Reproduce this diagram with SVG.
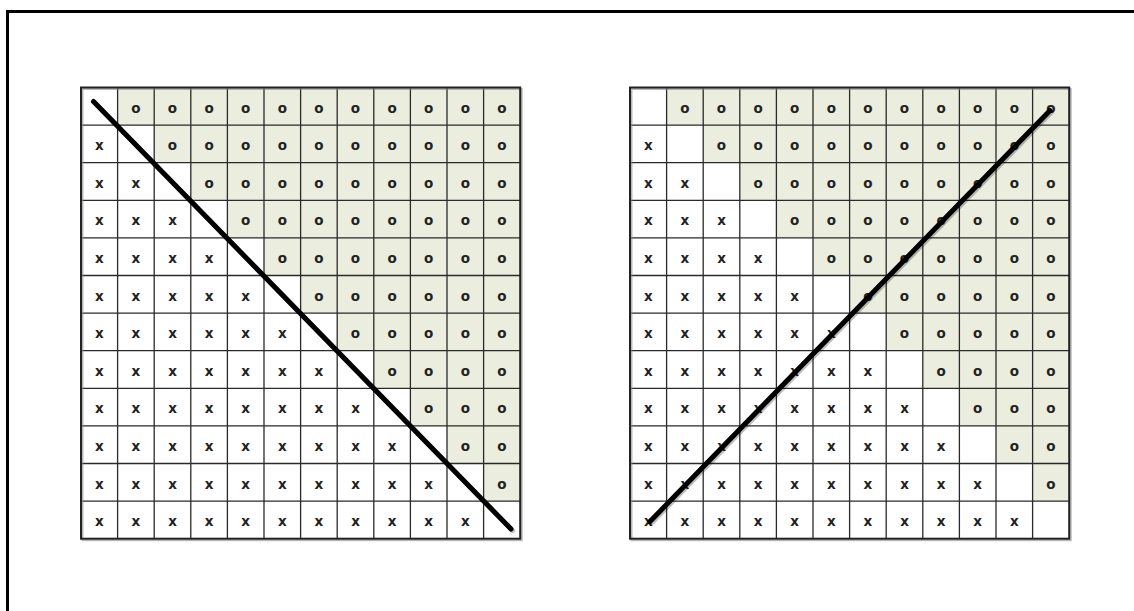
<svg xmlns="http://www.w3.org/2000/svg" width="1134" height="611" viewBox="0 0 1134 611">
<style>
.t{font-family:"DejaVu Sans",Verdana,sans-serif;font-size:13.5px;font-weight:bold;fill:#222;text-anchor:middle}
.g{fill:#ebeedf;stroke:none}
.ln{fill:none;stroke:#2a2a2a;stroke-width:1.3}
.bd{fill:none;stroke:#222;stroke-width:2}
.sh{fill:none;stroke:#888;stroke-width:2;opacity:.6}
.dg{stroke:#000;stroke-width:5;stroke-linecap:round}
.dgs{stroke:#000;stroke-width:5;stroke-linecap:round;opacity:.25}
</style>
<rect x="0" y="0" width="1134" height="611" fill="#fff"/>
<path d="M7.5,611 V11.5 H1134" fill="none" stroke="#000" stroke-width="3"/>
<g id="grid-left">
<polygon class="g" points="117.6,87.5 520.2,87.5 520.2,501.1 483.6,501.1 483.6,463.5 447,463.5 447,425.9 410.4,425.9 410.4,388.3 373.8,388.3 373.8,350.7 337.2,350.7 337.2,313.1 300.6,313.1 300.6,275.5 264,275.5 264,237.9 227.4,237.9 227.4,200.3 190.8,200.3 190.8,162.7 154.2,162.7 154.2,125.1 117.6,125.1"/>
<path class="ln" d="M117.6,87.5V538.7M154.2,87.5V538.7M190.8,87.5V538.7M227.4,87.5V538.7M264,87.5V538.7M300.6,87.5V538.7M337.2,87.5V538.7M373.8,87.5V538.7M410.4,87.5V538.7M447,87.5V538.7M483.6,87.5V538.7M81,125.1H520.2M81,162.7H520.2M81,200.3H520.2M81,237.9H520.2M81,275.5H520.2M81,313.1H520.2M81,350.7H520.2M81,388.3H520.2M81,425.9H520.2M81,463.5H520.2M81,501.1H520.2"/>
<rect class="sh" x="82.5" y="89" width="439.2" height="451.2"/>
<rect class="bd" x="81" y="87.5" width="439.2" height="451.2"/>
<text class="t" x="135.9 172.5 209.1 245.7 282.3 318.9 355.5 392.1 428.7 465.3 501.9" y="112.5">ooooooooooo</text>
<text class="t" x="172.5 209.1 245.7 282.3 318.9 355.5 392.1 428.7 465.3 501.9" y="150.1">oooooooooo</text>
<text class="t" x="209.1 245.7 282.3 318.9 355.5 392.1 428.7 465.3 501.9" y="187.7">ooooooooo</text>
<text class="t" x="245.7 282.3 318.9 355.5 392.1 428.7 465.3 501.9" y="225.3">oooooooo</text>
<text class="t" x="282.3 318.9 355.5 392.1 428.7 465.3 501.9" y="262.9">ooooooo</text>
<text class="t" x="318.9 355.5 392.1 428.7 465.3 501.9" y="300.5">oooooo</text>
<text class="t" x="355.5 392.1 428.7 465.3 501.9" y="338.1">ooooo</text>
<text class="t" x="392.1 428.7 465.3 501.9" y="375.7">oooo</text>
<text class="t" x="428.7 465.3 501.9" y="413.3">ooo</text>
<text class="t" x="465.3 501.9" y="450.9">oo</text>
<text class="t" x="501.9" y="488.5">o</text>
<text class="t" x="99.3" y="150.1">x</text>
<text class="t" x="99.3 135.9" y="187.7">xx</text>
<text class="t" x="99.3 135.9 172.5" y="225.3">xxx</text>
<text class="t" x="99.3 135.9 172.5 209.1" y="262.9">xxxx</text>
<text class="t" x="99.3 135.9 172.5 209.1 245.7" y="300.5">xxxxx</text>
<text class="t" x="99.3 135.9 172.5 209.1 245.7 282.3" y="338.1">xxxxxx</text>
<text class="t" x="99.3 135.9 172.5 209.1 245.7 282.3 318.9" y="375.7">xxxxxxx</text>
<text class="t" x="99.3 135.9 172.5 209.1 245.7 282.3 318.9 355.5" y="413.3">xxxxxxxx</text>
<text class="t" x="99.3 135.9 172.5 209.1 245.7 282.3 318.9 355.5 392.1" y="450.9">xxxxxxxxx</text>
<text class="t" x="99.3 135.9 172.5 209.1 245.7 282.3 318.9 355.5 392.1 428.7" y="488.5">xxxxxxxxxx</text>
<text class="t" x="99.3 135.9 172.5 209.1 245.7 282.3 318.9 355.5 392.1 428.7 465.3" y="526.1">xxxxxxxxxxx</text>
<line class="dgs" x1="95" y1="103" x2="512.5" y2="530.5"/>
<line class="dg" x1="93.5" y1="101.5" x2="511" y2="529"/>
</g>
<g id="grid-right">
<polygon class="g" points="666.6,87.5 1069.2,87.5 1069.2,501.1 1032.6,501.1 1032.6,463.5 996,463.5 996,425.9 959.4,425.9 959.4,388.3 922.8,388.3 922.8,350.7 886.2,350.7 886.2,313.1 849.6,313.1 849.6,275.5 813,275.5 813,237.9 776.4,237.9 776.4,200.3 739.8,200.3 739.8,162.7 703.2,162.7 703.2,125.1 666.6,125.1"/>
<path class="ln" d="M666.6,87.5V538.7M703.2,87.5V538.7M739.8,87.5V538.7M776.4,87.5V538.7M813,87.5V538.7M849.6,87.5V538.7M886.2,87.5V538.7M922.8,87.5V538.7M959.4,87.5V538.7M996,87.5V538.7M1032.6,87.5V538.7M630,125.1H1069.2M630,162.7H1069.2M630,200.3H1069.2M630,237.9H1069.2M630,275.5H1069.2M630,313.1H1069.2M630,350.7H1069.2M630,388.3H1069.2M630,425.9H1069.2M630,463.5H1069.2M630,501.1H1069.2"/>
<rect class="sh" x="631.5" y="89" width="439.2" height="451.2"/>
<rect class="bd" x="630" y="87.5" width="439.2" height="451.2"/>
<text class="t" x="684.9 721.5 758.1 794.7 831.3 867.9 904.5 941.1 977.7 1014.3 1050.9" y="112.5">ooooooooooo</text>
<text class="t" x="721.5 758.1 794.7 831.3 867.9 904.5 941.1 977.7 1014.3 1050.9" y="150.1">oooooooooo</text>
<text class="t" x="758.1 794.7 831.3 867.9 904.5 941.1 977.7 1014.3 1050.9" y="187.7">ooooooooo</text>
<text class="t" x="794.7 831.3 867.9 904.5 941.1 977.7 1014.3 1050.9" y="225.3">oooooooo</text>
<text class="t" x="831.3 867.9 904.5 941.1 977.7 1014.3 1050.9" y="262.9">ooooooo</text>
<text class="t" x="867.9 904.5 941.1 977.7 1014.3 1050.9" y="300.5">oooooo</text>
<text class="t" x="904.5 941.1 977.7 1014.3 1050.9" y="338.1">ooooo</text>
<text class="t" x="941.1 977.7 1014.3 1050.9" y="375.7">oooo</text>
<text class="t" x="977.7 1014.3 1050.9" y="413.3">ooo</text>
<text class="t" x="1014.3 1050.9" y="450.9">oo</text>
<text class="t" x="1050.9" y="488.5">o</text>
<text class="t" x="648.3" y="150.1">x</text>
<text class="t" x="648.3 684.9" y="187.7">xx</text>
<text class="t" x="648.3 684.9 721.5" y="225.3">xxx</text>
<text class="t" x="648.3 684.9 721.5 758.1" y="262.9">xxxx</text>
<text class="t" x="648.3 684.9 721.5 758.1 794.7" y="300.5">xxxxx</text>
<text class="t" x="648.3 684.9 721.5 758.1 794.7 831.3" y="338.1">xxxxxx</text>
<text class="t" x="648.3 684.9 721.5 758.1 794.7 831.3 867.9" y="375.7">xxxxxxx</text>
<text class="t" x="648.3 684.9 721.5 758.1 794.7 831.3 867.9 904.5" y="413.3">xxxxxxxx</text>
<text class="t" x="648.3 684.9 721.5 758.1 794.7 831.3 867.9 904.5 941.1" y="450.9">xxxxxxxxx</text>
<text class="t" x="648.3 684.9 721.5 758.1 794.7 831.3 867.9 904.5 941.1 977.7" y="488.5">xxxxxxxxxx</text>
<text class="t" x="648.3 684.9 721.5 758.1 794.7 831.3 867.9 904.5 941.1 977.7 1014.3" y="526.1">xxxxxxxxxxx</text>
<line class="dgs" x1="651.5" y1="523" x2="1051.5" y2="112"/>
<line class="dg" x1="650" y1="521.5" x2="1050" y2="110.5"/>
</g>
</svg>
